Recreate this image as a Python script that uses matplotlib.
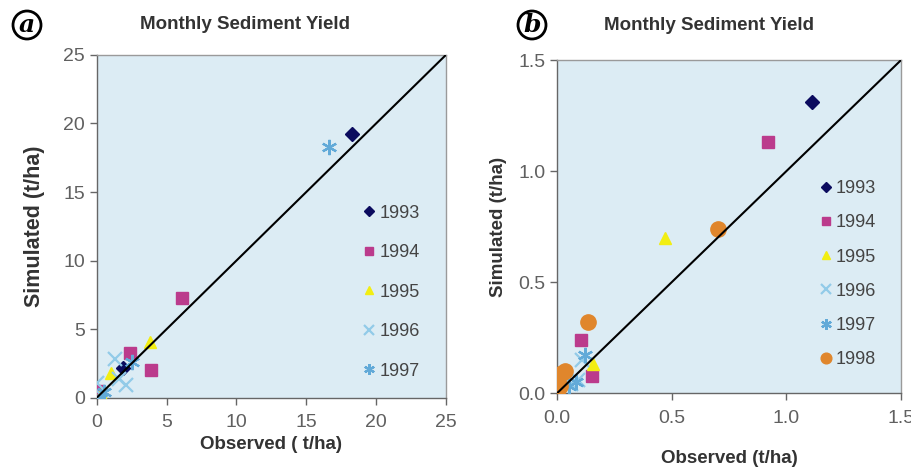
import matplotlib.pyplot as plt
from matplotlib.patches import Circle

# ----- panel a data (observed, simulated), t/ha -----
a_years = ['1993', '1994', '1995', '1996', '1997']
a_obs = {
    '1993': [18.3, 1.9, 0.1],
    '1994': [6.1, 2.4, 3.9, 0.1],
    '1995': [3.8, 1.0, 0.3],
    '1996': [1.3, 2.1, 1.6, 0.0, 0.3],
    '1997': [16.6, 2.5, 0.3, 0.5],
}
a_sim = {
    '1993': [19.2, 2.2, 0.3],
    '1994': [7.3, 3.3, 2.0, 0.5],
    '1995': [4.1, 1.8, 0.3],
    '1996': [2.8, 0.9, 1.4, 1.1, 0.2],
    '1997': [18.3, 2.6, 0.0, 0.4],
}

# ----- panel b data -----
b_years = ['1993', '1994', '1995', '1996', '1997', '1998']
b_obs = {
    '1993': [1.11],
    '1994': [0.92, 0.105, 0.15],
    '1995': [0.47, 0.155],
    '1996': [0.11, 0.09, 0.06],
    '1997': [0.12, 0.08, 0.05],
    '1998': [0.70, 0.135, 0.02, 0.0, 0.035, 0.01, 0.0],
}
b_sim = {
    '1993': [1.31],
    '1994': [1.13, 0.24, 0.077],
    '1995': [0.70, 0.13],
    '1996': [0.15, 0.06, 0.04],
    '1997': [0.17, 0.05, 0.03],
    '1998': [0.74, 0.32, 0.09, 0.07, 0.10, 0.03, 0.0],
}

styles = {
    '1993': dict(marker='D', color='#0b0b5e', ms=7),
    '1994': dict(marker='s', color='#bb3b8c', ms=9),
    '1995': dict(marker='^', color='#f2ee12', ms=9),
    '1996': dict(marker='x', color='#92cbe8', ms=10, mew=1.6),
    '1997': dict(marker=(6, 2, 0), color='#62aad8', ms=11, mew=1.6),
    '1998': dict(marker='o', color='#e0862c', ms=11),
}

plt.rcParams['font.family'] = ['Liberation Sans', 'DejaVu Sans']
BG = '#dcecf4'
TICK = '#606060'

fig = plt.figure(figsize=(9.12, 4.73), dpi=100)
fig.patch.set_facecolor('white')


def panel(rect, years, obs, sim, lim, ticks, ticklabels, xlabel, leg_y, spacing,
          title_x, title_y, xl_y, yl_size, yl_pad):
    ax = fig.add_axes(rect)
    ax.set_facecolor(BG)
    for y in years:
        st = styles[y]
        ax.plot(obs[y], sim[y], linestyle='none', marker=st['marker'], color=st['color'],
                ms=st['ms'], mew=st.get('mew', 1), label=y, zorder=3)
    ax.plot([0, lim], [0, lim], color='black', lw=1.5, zorder=4)
    ax.set_xlim(0, lim)
    ax.set_ylim(0, lim)
    ax.set_xticks(ticks)
    ax.set_xticklabels(ticklabels)
    ax.set_yticks(ticks)
    ax.set_yticklabels(ticklabels)
    ax.tick_params(direction='out', length=5, width=1, colors='#666666', labelcolor=TICK,
                   labelsize=14)
    ax.tick_params(axis='x', pad=7)
    for s in ax.spines.values():
        s.set_color('#9a9a9a')
        s.set_linewidth(1)
    ax.spines['left'].set_color('#666666')
    ax.spines['bottom'].set_color('#666666')
    ax.set_xlabel(xlabel, fontsize=13.5, fontweight='bold', color='#333333')
    ax.xaxis.set_label_coords(0.5, xl_y)
    ax.set_ylabel('Simulated (t/ha)', fontsize=yl_size, fontweight='bold', color='#333333',
                  labelpad=yl_pad)
    ax.set_title('Monthly Sediment Yield', fontsize=13.5, fontweight='bold', color='#333333',
                 x=title_x, y=title_y, pad=0)
    leg = ax.legend(loc='center left', bbox_to_anchor=(0.76, leg_y), frameon=False,
                    fontsize=13, handlelength=0.8, handletextpad=0.15, labelspacing=spacing,
                    borderpad=0, borderaxespad=0, markerscale=0.7)
    for t in leg.get_texts():
        t.set_color('#444444')
    return ax


ax_a = panel([0.106, 0.159, 0.383, 0.725], a_years, a_obs, a_sim, 25,
             [0, 5, 10, 15, 20, 25], ['0', '5', '10', '15', '20', '25'],
             'Observed ( t/ha)', 0.308, 1.25, 0.424, 1.076, -0.11, 15.5, 13)
ax_b = panel([0.611, 0.169, 0.377, 0.704], b_years, b_obs, b_sim, 1.5,
             [0, 0.5, 1.0, 1.5], ['0.0', '0.5', '1.0', '1.5'],
             'Observed (t/ha)', 0.357, 0.95, 0.442, 1.09, -0.17, 13.5, 8)

# circled panel letters
for x, y, letter in [(27, 25, 'a'), (532, 25, 'b')]:
    fx, fy = x / 912, 1 - y / 473
    fig.text(fx, fy, letter, ha='center', va='center', fontsize=18, fontstyle='italic',
             fontweight='bold', family='DejaVu Serif')
    fig.add_artist(Circle((x, 473 - y), 14, transform=None, fill=False, lw=2,
                          edgecolor='black'))

fig.savefig('out.png', dpi=100, facecolor=fig.get_facecolor())
